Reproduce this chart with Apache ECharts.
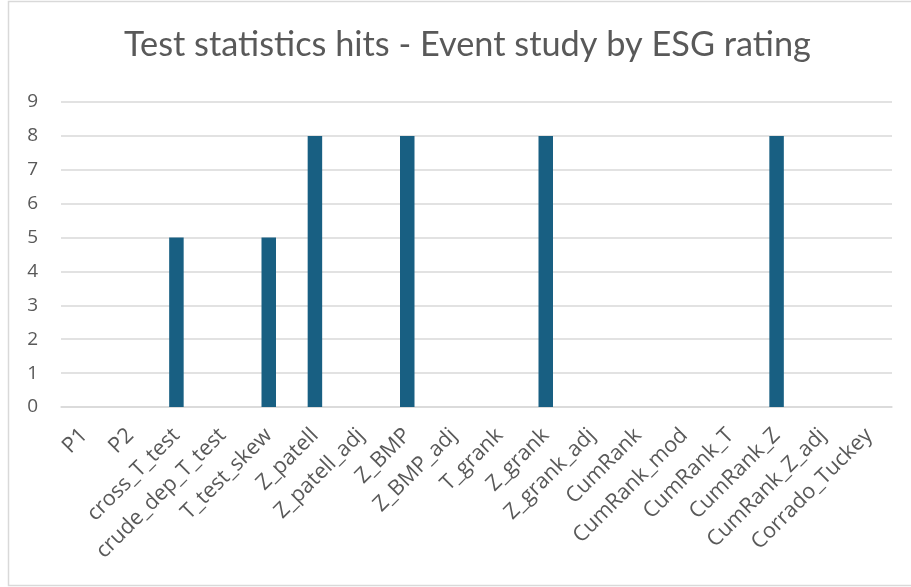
<!DOCTYPE html>
<html>
<head>
<meta charset="utf-8">
<script src="https://cdn.jsdelivr.net/npm/echarts@6/dist/echarts.min.js"></script>
<style>
  html, body { margin: 0; padding: 0; background: #ffffff; }
  #chart { width: 911px; height: 587px; }
</style>
</head>
<body>
<div id="chart"></div>
<script>
// Test statistics and how many times each one was significant
const categories = [
  'P1', 'P2', 'cross_T_test', 'crude_dep_T_test', 'T_test_skew', 'Z_patell',
  'Z_patell_adj', 'Z_BMP', 'Z_BMP_adj', 'T_grank', 'Z_grank', 'Z_grank_adj',
  'CumRank', 'CumRank_mod', 'CumRank_T', 'CumRank_Z', 'CumRank_Z_adj', 'Corrado_Tuckey'
];
const hits = [0, 0, 5, 0, 5, 8, 0, 8, 0, 0, 8, 0, 0, 0, 0, 8, 0, 0];

const textColor = '#595959';
const titleFont = 'Lato, "Open Sans", sans-serif';
const labelFont = '"Open Sans", "Noto Sans", sans-serif';

const chart = echarts.init(document.getElementById('chart'), null, { renderer: 'canvas' });
chart.setOption({
  backgroundColor: '#ffffff',
  animation: false,
  title: {
    text: 'Test statistics hits - Event study by ESG rating',
    left: 119,
    top: 23,
    textStyle: { color: textColor, fontFamily: titleFont, fontSize: 34.3, fontWeight: 'normal' }
  },
  graphic: [{
    type: 'rect',
    shape: { x: 8.5, y: 1.5, width: 920, height: 584 },
    style: { fill: 'none', stroke: '#d9d9d9', lineWidth: 1.5 },
    silent: true
  }],
  grid: { left: 61, right: 19, top: 102, bottom: 180 },
  xAxis: {
    type: 'category',
    data: categories,
    axisLine: { lineStyle: { color: '#d9d9d9', width: 1.5 } },
    axisTick: { show: false },
    axisLabel: {
      rotate: 45,
      interval: 0,
      margin: 25,
      color: textColor,
      fontFamily: labelFont,
      fontSize: 21.5
    }
  },
  yAxis: {
    type: 'value',
    min: 0,
    max: 9,
    interval: 1,
    axisLine: { show: false },
    axisTick: { show: false },
    splitLine: { lineStyle: { color: '#d9d9d9', width: 1.5 } },
    axisLabel: { color: textColor, fontFamily: labelFont, fontSize: 19, margin: 23 }
  },
  series: [{
    type: 'bar',
    data: hits,
    barWidth: 14.5,
    itemStyle: { color: '#185f82' }
  }]
});
</script>
</body>
</html>
